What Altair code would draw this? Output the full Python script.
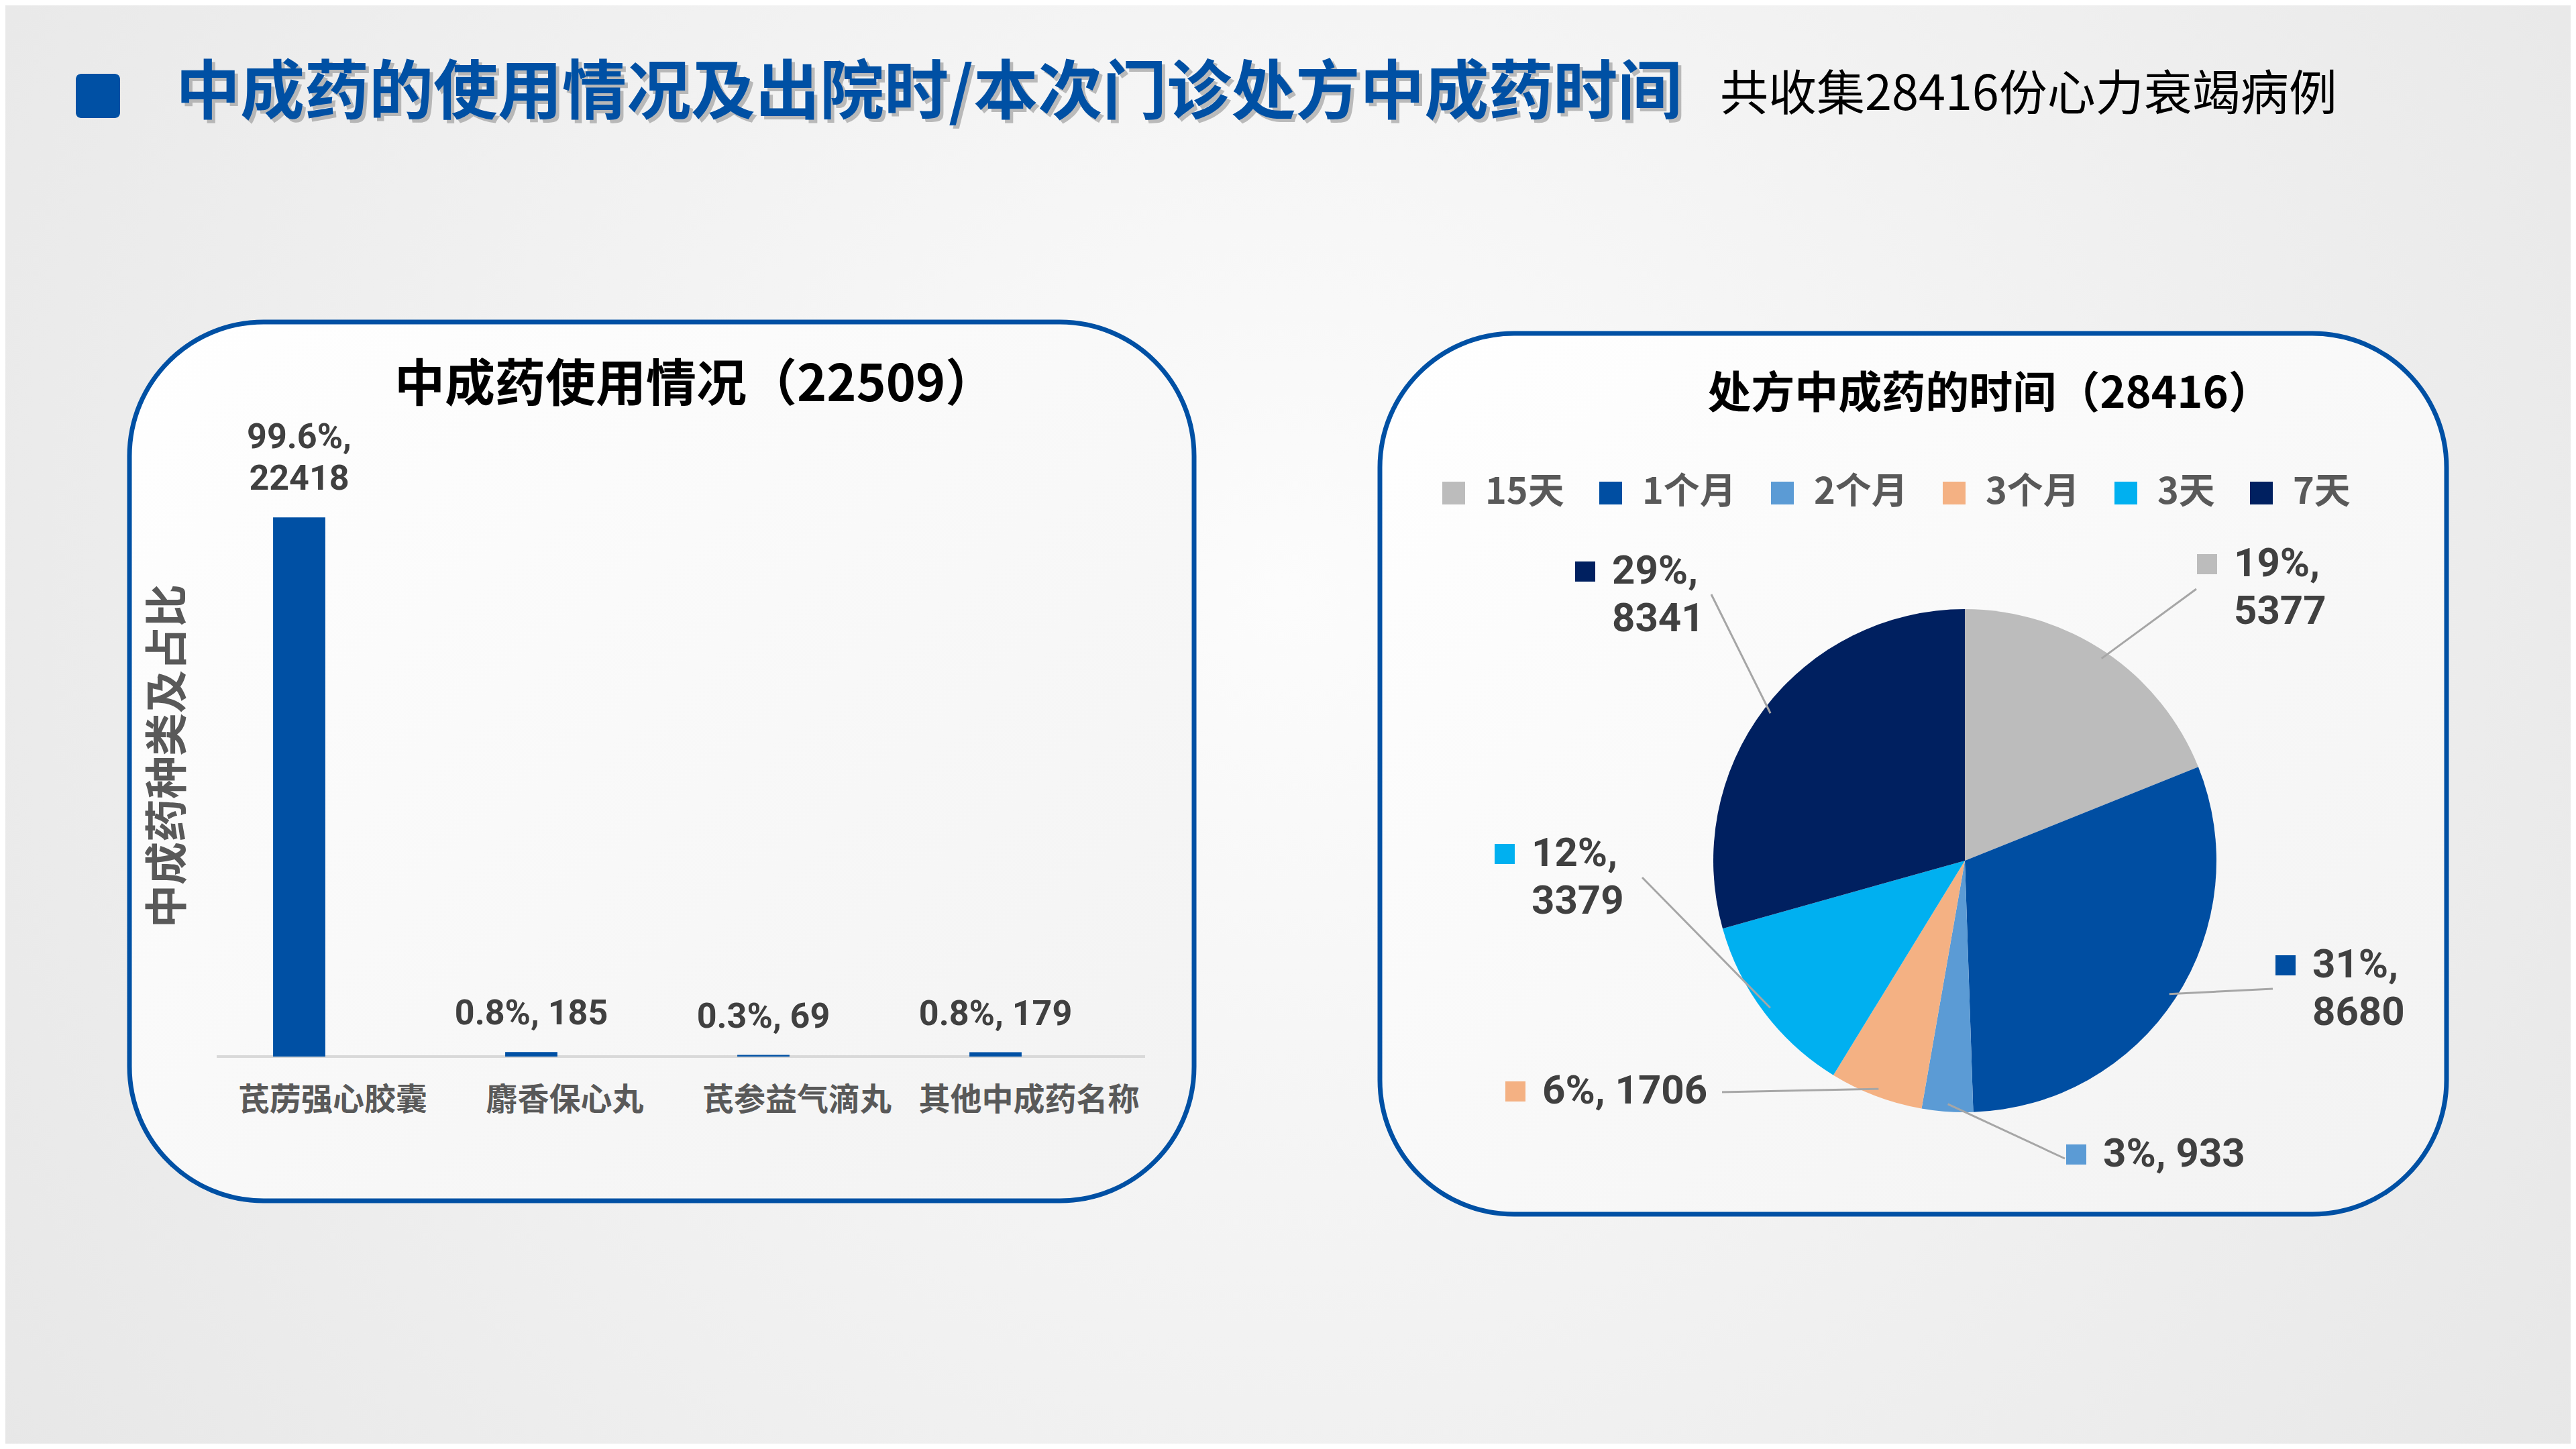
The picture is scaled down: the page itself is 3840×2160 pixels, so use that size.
import pandas as pd
import altair as alt

FONT = "Noto Sans CJK SC"
NUM_FONT = "Roboto"
BLUE = "#0050A4"

# ---- data ----
BAR_NAMES = ["芪苈强心胶囊", "麝香保心丸", "芪参益气滴丸", "其他中成药名称"]
BAR_COUNTS = [22418, 185, 69, 179]
BAR_TOTAL = 22509

PIE_NAMES = ["15天", "1个月", "2个月", "3个月", "3天", "7天"]
PIE_COUNTS = [5377, 8680, 933, 1706, 3379, 8341]
PIE_COLORS = ["#BCBCBC", "#004EA2", "#5B9BD5", "#F4B183", "#00B0F0", "#002060"]

MAIN_TITLE = "中成药的使用情况及出院时/本次门诊处方中成药时间"
SUB_TITLE = "共收集28416份心力衰竭病例"
LEFT_TITLE = "中成药使用情况（22509）"
RIGHT_TITLE = "处方中成药的时间（28416）"
Y_TITLE = "中成药种类及占比"

# ---- layout (pixels) ----
W, H = 3824, 2144
BASE_Y = 1567
PIE_CX, PIE_CY, PIE_R = 2921, 1275, 375
# label marker offsets from pie centre, and leader line ends
LABEL_DX = [361, 478, 166, -670, -686, -566]
LABEL_DY = [-442, 156, 438, 344, -10, -431]
LEAD_DX = [345, 459, 149, -362, -481, -378]
LEAD_DY = [-405, 191, 444, 345, 25, -397]
LABEL_WRAP = [True, True, False, False, True, True]

one = pd.DataFrame({"k": [0]})


def box(x0, x1, y0, y1, **mark):
    return alt.Chart(one).mark_rect(**mark).encode(
        x=alt.value(x0), x2=alt.value(x1), y=alt.value(y0), y2=alt.value(y1)
    )


def label(text, x, y, **mark):
    return alt.Chart(one).mark_text(font=FONT, **mark).encode(
        x=alt.value(x), y=alt.value(y), text=alt.value(text)
    )


background = box(0, W, 0, H, fill=alt.RadialGradient(
    gradient="radial", x1=0.5, y1=0.45, r1=0, x2=0.5, y2=0.45, r2=0.75,
    stops=[alt.GradientStop(color="#fcfcfc", offset=0),
           alt.GradientStop(color="#e2e2e2", offset=1)]))

panel_fill = alt.LinearGradient(
    gradient="linear", x1=0, y1=0, x2=1, y2=1,
    stops=[alt.GradientStop(color="#ffffff", offset=0),
           alt.GradientStop(color="#f2f2f2", offset=1)])
left_panel = box(185, 1772, 472, 1782, fill=panel_fill, stroke=BLUE,
                 strokeWidth=7, cornerRadius=200)
right_panel = box(2049, 3639, 489, 1802, fill=panel_fill, stroke=BLUE,
                  strokeWidth=7, cornerRadius=200)

# header
square = box(105, 171, 102, 168, fill=BLUE, cornerRadius=8)
title_shadow = label(MAIN_TITLE, 259, 137, fontSize=96, fontWeight="bold",
                     color="#8a8a8a", opacity=0.55, align="left", baseline="middle")
title = label(MAIN_TITLE, 254, 132, fontSize=96, fontWeight="bold",
              color=BLUE, align="left", baseline="middle")
subtitle = label(SUB_TITLE, 2556, 134, fontSize=72, color="#000000",
                 align="left", baseline="middle")

# ---- left: bar chart ----
bar_df = pd.DataFrame({"name": BAR_NAMES, "n": BAR_COUNTS})
x_enc = alt.X("name:N", sort=BAR_NAMES, title=None, axis=None,
              scale=alt.Scale(range=[315, 1699], paddingInner=0.775, paddingOuter=0.3875))
y_enc = alt.Y("n:Q", axis=None,
              scale=alt.Scale(domain=[0, 43700], range=[BASE_Y, 0], nice=False))

axis_line = alt.Chart(one).mark_rule(color="#d9d9d9", strokeWidth=4).encode(
    x=alt.value(315), x2=alt.value(1699), y=alt.value(BASE_Y)
)
bars = alt.Chart(bar_df).mark_bar(color=BLUE, xOffset=-50).encode(x=x_enc, y=y_enc)
cat_labels = alt.Chart(bar_df).mark_text(
    font=FONT, fontSize=47, fontWeight="bold", color="#595959", baseline="middle"
).encode(x=x_enc, y=alt.value(1633), text="name:N")

bar_calc = alt.Chart(bar_df).transform_calculate(
    pct=f'format(datum.n / {BAR_TOTAL}, ".1%") + ","',
    wrap="datum.n >= 10000",
    top_line='datum.wrap ? datum.pct : ""',
    bottom_line='datum.wrap ? "" + datum.n : datum.pct + " " + datum.n',
)
value_style = dict(font=NUM_FONT, fontSize=52, fontWeight="bold", color="#404040",
                   xOffset=-50, baseline="bottom", align="center")
bar_text_top = bar_calc.mark_text(dy=-92, **value_style).encode(
    x=x_enc, y=y_enc, text="top_line:N")
bar_text_bottom = bar_calc.mark_text(dy=-30, **value_style).encode(
    x=x_enc, y=y_enc, text="bottom_line:N")
bar_layer = alt.layer(axis_line, bars, cat_labels, bar_text_top, bar_text_bottom)

left_title = label(LEFT_TITLE, 1028, 567, fontSize=75, fontWeight="bold",
                   color="#000000", align="center", baseline="middle")
y_title = label(Y_TITLE, 244, 1119, fontSize=64, fontWeight="bold", color="#595959",
                angle=270, align="center", baseline="middle")

# ---- right: pie chart ----
pie_df = pd.DataFrame({
    "period": PIE_NAMES, "n": PIE_COUNTS, "idx": range(len(PIE_NAMES)),
    "lab_dx": LABEL_DX, "lab_dy": LABEL_DY,
    "lead_dx": LEAD_DX, "lead_dy": LEAD_DY, "wrap": LABEL_WRAP,
})
color = alt.Color("period:N", scale=alt.Scale(domain=PIE_NAMES, range=PIE_COLORS),
                  legend=alt.Legend(orient="none", legendX=2132, legendY=700,
                                    direction="horizontal", title=None,
                                    symbolType="square", symbolSize=1156,
                                    symbolStrokeWidth=0, labelFont=FONT,
                                    labelFontSize=54, labelFontWeight="bold",
                                    labelColor="#595959", labelOffset=20,
                                    columnPadding=42, padding=0))

pie = alt.Chart(pie_df).mark_arc(outerRadius=PIE_R).encode(
    x=alt.value(PIE_CX), y=alt.value(PIE_CY),
    theta=alt.Theta("n:Q", stack=True),
    order=alt.Order("idx:Q"),
    color=color,
)

pie_calc = alt.Chart(pie_df).transform_joinaggregate(
    total="sum(n)"
).transform_window(
    cum="sum(n)", sort=[alt.SortField("idx")], frame=[None, 0]
).transform_calculate(
    mid="(datum.cum - datum.n / 2) / datum.total * 2 * PI",
    sx=f"{PIE_CX} + {PIE_R * 0.97} * sin(datum.mid)",
    sy=f"{PIE_CY} - {PIE_R * 0.97} * cos(datum.mid)",
    ex=f"{PIE_CX} + datum.lead_dx",
    ey=f"{PIE_CY} + datum.lead_dy",
    mx=f"{PIE_CX} + datum.lab_dx",
    my=f"{PIE_CY} + datum.lab_dy",
    tx=f"{PIE_CX} + datum.lab_dx + 40",
    ty=f"{PIE_CY} + datum.lab_dy",
    pct='format(datum.n / datum.total, ".0%") + ","',
    line1='datum.wrap ? datum.pct : datum.pct + " " + datum.n',
    line2='datum.wrap ? "" + datum.n : ""',
)

leaders = pie_calc.mark_rule(color="#a6a6a6", strokeWidth=3).encode(
    x=alt.X("sx:Q", scale=None), y=alt.Y("sy:Q", scale=None),
    x2="ex:Q", y2="ey:Q",
)
markers = pie_calc.mark_point(shape="square", filled=True, size=900, opacity=1).encode(
    x=alt.X("mx:Q", scale=None), y=alt.Y("my:Q", scale=None),
    color=alt.Color("period:N", legend=None),
)
pie_style = dict(font=NUM_FONT, fontSize=60, fontWeight="bold", color="#404040",
                 align="left", baseline="middle")
pie_text1 = pie_calc.mark_text(**pie_style).encode(
    x=alt.X("tx:Q", scale=None), y=alt.Y("ty:Q", scale=None), text="line1:N")
pie_text2 = pie_calc.mark_text(dy=71, **pie_style).encode(
    x=alt.X("tx:Q", scale=None), y=alt.Y("ty:Q", scale=None), text="line2:N")

right_title = label(RIGHT_TITLE, 2958, 580, fontSize=65, fontWeight="bold",
                    color="#000000", align="center", baseline="middle")

chart = alt.layer(
    background, left_panel, right_panel, square, title_shadow, title, subtitle,
    left_title, y_title, bar_layer,
    right_title, pie, leaders, markers, pie_text1, pie_text2,
).resolve_scale(
    x="independent", y="independent"
).properties(
    width=W, height=H, padding=0, autosize="none", background="#eeeeee"
).configure_view(stroke=None)

chart.save("out.html", embed_options={"renderer": "svg", "actions": False})
